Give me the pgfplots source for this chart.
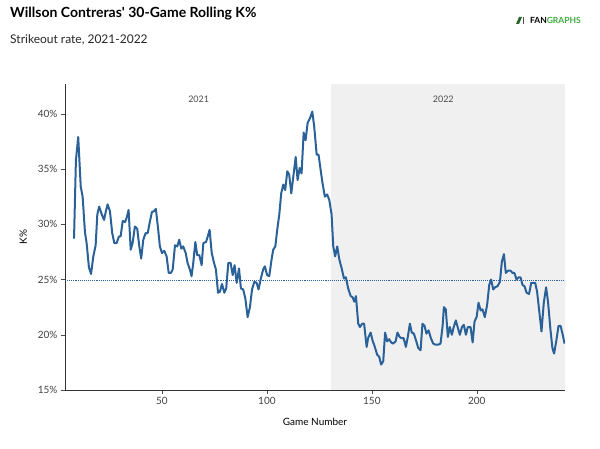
\documentclass[border=0pt]{standalone}
\usepackage{pgfplots}
\pgfplotsset{compat=1.18}
\usepackage{fontspec}
\setmainfont{Lato}
\definecolor{ln}{HTML}{2A6199}
\definecolor{bggray}{HTML}{F0F0F0}
\definecolor{fg}{HTML}{3DAA3D}
\begin{document}
\begin{tikzpicture}[x=1pt,y=1pt]
\path[use as bounding box] (0,0) rectangle (600,449);
\node[anchor=base west,font=\bfseries\fontsize{14}{16}\selectfont,inner sep=0pt] at (10,431) {Willson Contreras\textquotesingle{} 30-Game Rolling K\%};
\node[anchor=base west,font=\fontsize{12}{14}\selectfont,text=black!85,inner sep=0pt] at (10,405) {Strikeout rate, 2021-2022};
\node[anchor=base east,font=\bfseries\fontsize{8.5}{9}\selectfont,inner sep=0pt] at (581,425) {\textcolor{black}{FAN}\textcolor{fg}{GRAPHS}};
\fill[fg!60!black] (516,425) -- (519,425) -- (522,432) -- (519,432) -- cycle;
\draw[black!70,line width=0.8pt] (523,425) -- (523,432);
\begin{axis}[at={(65pt,59pt)},anchor=south west,scale only axis,width=500pt,height=306pt,
  xmin=3.8,xmax=242,ymin=15,ymax=42.7,
  axis lines=left, axis line style={black!80,-},
  xtick={50,100,150,200}, ytick={15,20,25,30,35,40},
  yticklabel={\pgfmathprintnumber{\tick}\%},
  tick style={black!70}, tick align=outside, major tick length=4pt,
  ticklabel style={font=\fontsize{10}{12}\selectfont,text=black!75},
  /pgf/number format/assume math mode=true,
  xlabel={Game Number}, ylabel={K\%},
  label style={font=\fontsize{10}{12}\selectfont},
  xlabel style={yshift=-6pt}, ylabel style={yshift=4pt},
  clip=true]
\fill[bggray] (axis cs:130.5,15) rectangle (axis cs:242,42.7);
\addplot[ln, densely dotted, line width=1.1pt, forget plot] coordinates {(3.8,24.9) (242,24.9)};
\node[font=\fontsize{9}{11}\selectfont,text=black!70] at (axis cs:67.5,41.3) {2021};
\node[font=\fontsize{9}{11}\selectfont,text=black!70] at (axis cs:184,41.3) {2022};
\addplot[ln, line width=2pt, line join=round] coordinates {
(8.1,28.7)(9,35.8)(10.1,37.9)(11.3,33.4)(12.2,32.5)(13.3,29.3)(14.1,28.3)(15.2,26.1)(16.2,25.5)(17.3,27.1)(18.4,28.1)(19.2,30.9)(20.1,31.6)(21.3,30.9)(22.4,30.4)(23.3,31.2)(24.1,31.8)(25.2,31.2)(26.3,29.2)(27.3,28.3)(28.4,28.3)(29.5,28.9)(30.3,28.9)(31.3,30.3)(32.4,30.2)(33.2,30.6)(34.1,31.3)(35.1,27.7)(36.0,28.3)(37.1,29.8)(38.2,29.6)(39.2,28.0)(40.1,26.9)(41.1,28.6)(42.2,29.2)(43.2,29.2)(44.3,30.3)(45.2,31.1)(46.3,31.2)(47.1,31.4)(48.2,29.5)(49.0,28.0)(50,27.4)(51.1,27.6)(52.2,27.1)(53.2,25.6)(54.3,25.6)(55.1,25.9)(56.2,28.1)(57.3,28.0)(58.2,28.6)(59.2,27.8)(60.1,28.0)(61.3,27.4)(62.2,26.5)(63.3,25.9)(64.1,25.3)(64.9,26.5)(65.9,28.4)(66.8,27.2)(67.8,27.2)(68.9,26.3)(69.7,28.3)(71.0,28.4)(71.8,28.9)(72.7,29.5)(73.7,27.4)(74.8,26.5)(75.7,25.9)(76.7,23.8)(77.6,23.9)(78.6,24.6)(79.7,23.8)(80.6,24.2)(81.6,26.5)(82.7,26.5)(83.7,25.4)(84.6,26.3)(85.6,24.7)(86.7,26.0)(87.6,24.2)(88.7,24.1)(89.7,23.3)(90.8,21.6)(91.9,22.5)(92.9,24.1)(94.0,24.8)(95.1,24.7)(96.0,24.1)(97.1,25.1)(98.2,25.9)(99.0,26.2)(100.1,25.4)(101.1,25.3)(102.2,26.8)(103.0,27.7)(104.0,28.0)(104.9,29.5)(105.9,30.9)(106.8,32.8)(107.8,33.6)(108.7,33.1)(109.7,34.8)(110.6,34.5)(111.6,32.8)(112.5,34.2)(113.7,36.1)(114.6,34.0)(115.6,35.1)(116.5,34.6)(117.5,38.3)(118.4,37.6)(119.4,39.2)(120.5,39.6)(121.6,40.2)(122.5,38.9)(123.7,36.3)(124.6,36.3)(125.6,34.9)(126.5,33.7)(127.6,32.5)(128.7,32.7)(129.7,32.2)(130.8,30.9)(131.6,28.0)(132.5,27.1)(133.5,28.0)(134.4,26.9)(135.6,26.0)(136.7,25.1)(137.6,25.2)(138.7,24.2)(139.9,23.5)(140.8,23.4)(141.6,23.0)(142.4,23.5)(143.5,21.0)(144.3,20.7)(145.4,21.0)(146.3,21.0)(147.5,18.9)(148.2,19.7)(149.4,20.2)(150.3,19.5)(151.4,18.9)(152.5,18.2)(153.5,18.0)(154.4,17.3)(155.4,17.6)(156.3,20.2)(157.3,19.4)(158.2,19.6)(159.2,19.3)(160.1,19.2)(161.3,19.4)(162.2,20.2)(163.2,19.8)(164.1,19.7)(165.1,19.7)(166.2,18.9)(167.1,19.8)(168.1,21.0)(169.0,20.2)(170.0,20.1)(171.0,19.5)(172.1,18.8)(173.2,18.6)(174.1,21.0)(175.1,20.8)(176.0,20.1)(177.0,20.4)(178.1,19.7)(179.2,19.2)(180.3,19.1)(181.6,19.1)(182.7,19.2)(183.7,20.8)(184.3,22.5)(185.2,22.3)(186.2,19.8)(187.1,20.7)(188.1,20.0)(189.0,20.7)(190.0,21.3)(191.0,20.6)(191.9,20.0)(192.9,20.7)(193.8,20.9)(194.8,20.0)(195.7,20.7)(197.0,20.7)(198.0,19.3)(198.9,21.2)(199.9,21.6)(200.8,22.9)(201.8,22.2)(202.7,22.3)(203.8,21.6)(204.9,22.7)(205.9,24.5)(206.8,25.0)(207.8,24.1)(208.7,24.3)(209.9,24.4)(211.0,24.8)(211.9,26.6)(212.9,27.3)(213.8,25.6)(214.9,25.8)(216.0,25.8)(217.0,25.6)(217.9,25.6)(218.9,25.0)(219.9,25.2)(220.8,25.2)(221.8,24.5)(222.7,24.4)(223.7,23.8)(224.9,23.7)(225.9,24.7)(226.8,24.7)(227.8,24.7)(228.7,23.9)(229.7,22.2)(230.8,20.3)(231.9,22.9)(233.0,24.3)(233.9,23.0)(235.1,20.4)(236.0,18.8)(236.8,18.3)(237.9,19.5)(238.9,20.8)(239.9,20.8)(240.8,20.1)(241.8,19.2)
};
\end{axis}
\end{tikzpicture}
\end{document}
